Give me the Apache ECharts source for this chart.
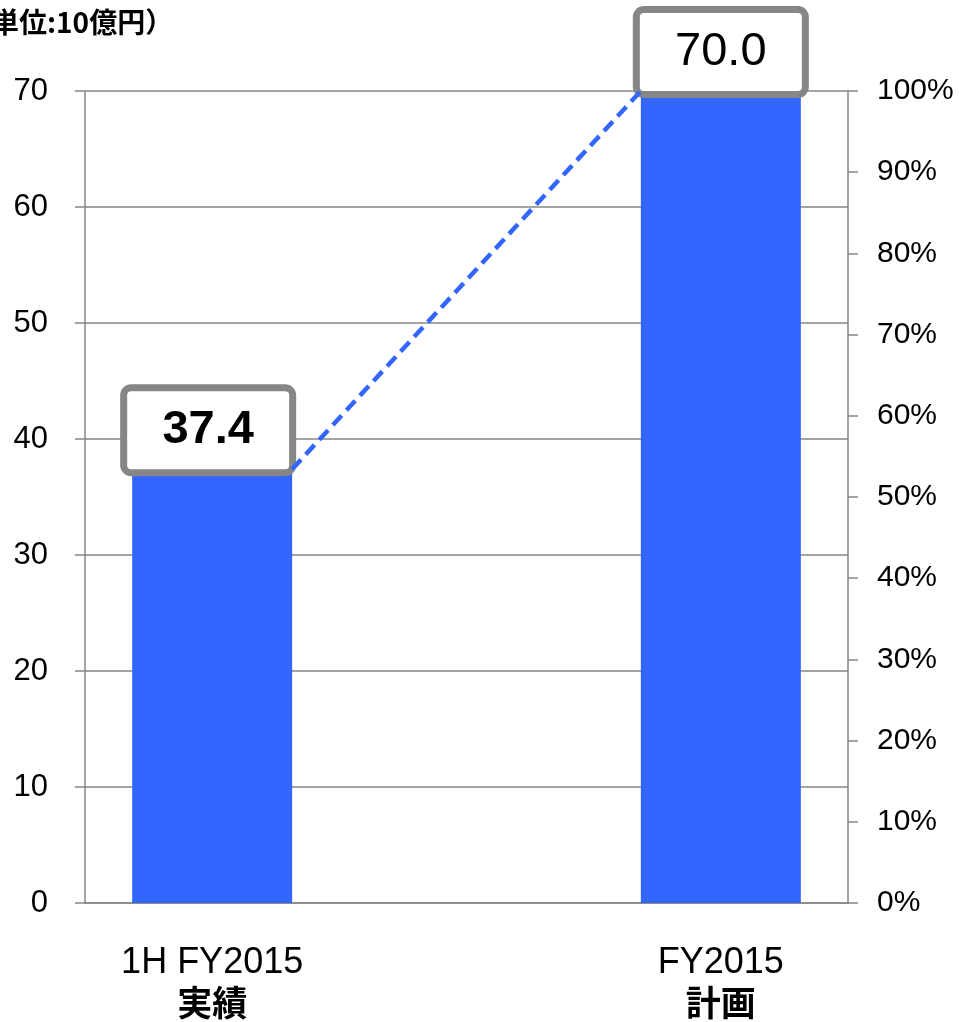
<!DOCTYPE html>
<html>
<head>
<meta charset="utf-8">
<script src="https://cdn.jsdelivr.net/npm/echarts@6/dist/echarts.min.js"></script>
<style>
  html, body { margin: 0; padding: 0; background: #fff; }
  #chart { width: 959px; height: 1022px; }
</style>
</head>
<body>
<div id="chart"></div>
<script>
// 売上高（単位：10億円）
const categories = ['1H FY2015\n実績', '', 'FY2015\n計画']
const salesValues = [37.4, null, 70.0]
const labelBold = [true, false, false]
const leftAxis = { min: 0, max: 70, interval: 10 }
const rightAxis = { min: 0, max: 100, interval: 10 }
const unitText = '（単位:10億円）'

const BAR_W = 160
const BLUE = '#3366FF'
const GREY = '#868686'
const LATIN = 'Arial, "Liberation Sans", sans-serif'
const CJK = 'Arial, "Liberation Sans", "Noto Sans CJK JP", sans-serif'

const chart = echarts.init(document.getElementById('chart'))

const barData = salesValues.map((v, i) => {
  if (v == null) return '-'
  return {
    value: v,
    label: {
      fontWeight: labelBold[i] ? 'bold' : 'normal',
      offset: i === 0 ? [-4, 0] : [0, 0]
    }
  }
})

// 実績と計画のバーを結ぶ点線
const linkData = [[0, salesValues[0], 2, salesValues[2]]]

chart.setOption({
  animation: false,
  grid: { left: 85, right: 111, top: 91, bottom: 119 },
  graphic: [{
    type: 'text',
    left: -37,
    top: 8,
    style: {
      text: unitText,
      font: 'bold 28px "Noto Sans CJK JP", sans-serif',
      fill: '#000'
    }
  }],
  xAxis: [{
    type: 'category',
    data: categories,
    axisLine: { lineStyle: { color: GREY, width: 1.5 } },
    axisTick: { show: false },
    axisLabel: {
      interval: 0,
      margin: 40,
      formatter: (val) => {
        if (!val) return ''
        const parts = val.split('\n')
        return '{a|' + parts[0] + '}\n{b|' + parts[1] + '}'
      },
      rich: {
        a: { fontSize: 36, fontFamily: CJK, color: '#000', lineHeight: 40 },
        b: { fontSize: 35, fontWeight: 'bold', fontFamily: '"Noto Sans CJK JP", sans-serif', color: '#000', lineHeight: 40 }
      }
    }
  }],
  yAxis: [{
    type: 'value',
    min: leftAxis.min,
    max: leftAxis.max,
    interval: leftAxis.interval,
    axisLine: { show: true, lineStyle: { color: GREY, width: 1.5 } },
    axisTick: { show: true, length: 10, lineStyle: { color: GREY, width: 1.5 } },
    axisLabel: { margin: 37, fontSize: 31, fontFamily: LATIN, color: '#000' },
    splitLine: { lineStyle: { color: GREY, width: 1.5 } }
  }, {
    type: 'value',
    position: 'right',
    min: rightAxis.min,
    max: rightAxis.max,
    interval: rightAxis.interval,
    axisLine: { show: true, lineStyle: { color: GREY, width: 1.5 } },
    axisTick: { show: true, length: 10, lineStyle: { color: GREY, width: 1.5 } },
    axisLabel: { margin: 29, fontSize: 30, fontFamily: LATIN, color: '#000', formatter: '{value}%' },
    splitLine: { show: false }
  }],
  series: [{
    type: 'custom',
    xAxisIndex: 0,
    yAxisIndex: 0,
    z: 3,
    encode: { x: 0, y: 1 },
    data: linkData,
    renderItem: (params, api) => {
      const p1 = api.coord([api.value(0), api.value(1)])
      const p2 = api.coord([api.value(2), api.value(3)])
      return {
        type: 'line',
        shape: { x1: p1[0] + BAR_W / 2, y1: p1[1], x2: p2[0] - BAR_W / 2, y2: p2[1] },
        style: { stroke: BLUE, lineWidth: 4.5, lineDash: [13, 7], fill: null }
      }
    }
  }, {
    type: 'bar',
    xAxisIndex: 0,
    yAxisIndex: 0,
    z: 2,
    barWidth: BAR_W,
    data: barData,
    itemStyle: { color: BLUE },
    label: {
      show: true,
      position: 'top',
      distance: 0,
      formatter: (p) => p.value.toFixed(1),
      width: 162,
      height: 78,
      lineHeight: 78,
      align: 'center',
      fontSize: 47,
      fontFamily: LATIN,
      color: '#000',
      backgroundColor: '#fff',
      borderColor: GREY,
      borderWidth: 7,
      borderRadius: 4
    }
  }]
})
</script>
</body>
</html>
